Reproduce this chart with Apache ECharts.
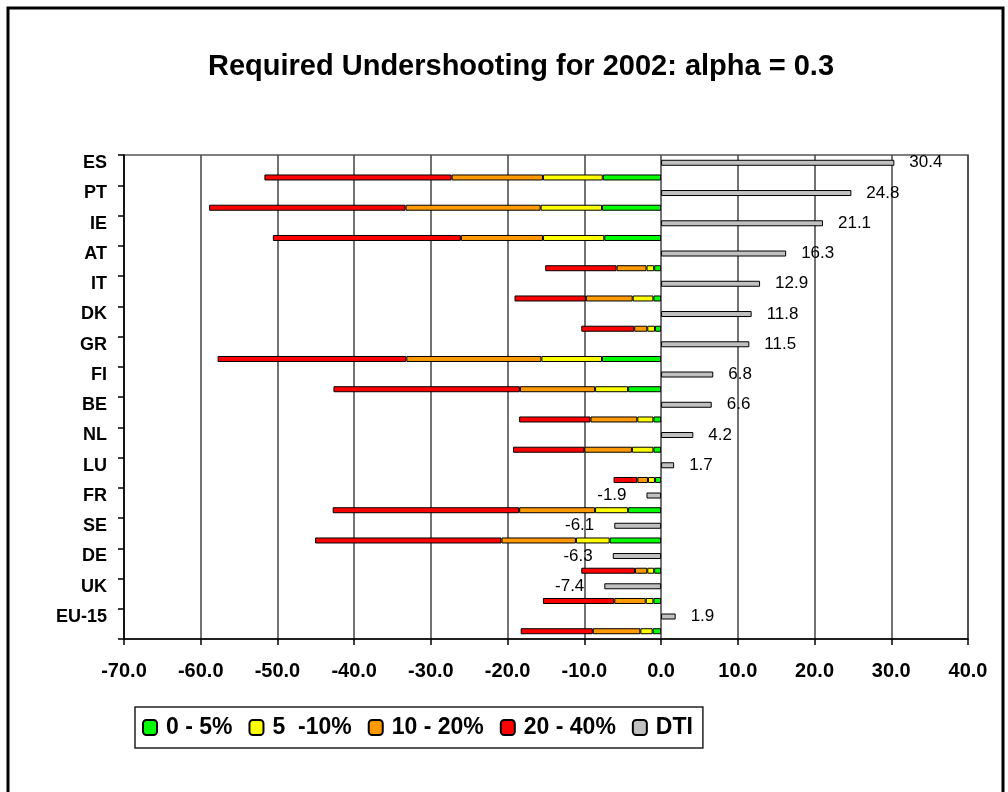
<!DOCTYPE html>
<html>
<head>
<meta charset="utf-8">
<script src="https://cdn.jsdelivr.net/npm/echarts@6/dist/echarts.min.js"></script>
<style>
  html, body { margin: 0; padding: 0; background: #fff; }
  #chart { width: 1008px; height: 792px; }
</style>
</head>
<body>
<div id="chart"></div>
<script>
// Countries, top to bottom
const categories = ['ES', 'PT', 'IE', 'AT', 'IT', 'DK', 'GR', 'FI', 'BE', 'NL', 'LU', 'FR', 'SE', 'DE', 'UK', 'EU-15'];

// DTI value per country
const dti = [30.4, 24.8, 21.1, 16.3, 12.9, 11.8, 11.5, 6.8, 6.6, 4.2, 1.7, -1.9, -6.1, -6.3, -7.4, 1.9];

// Required undershooting, stacked by band (each entry is the size of that band's segment)
const band0to5   = [-7.6, -7.7, -7.4, -0.9, -1.0, -0.8, -7.7, -4.3, -1.0, -1.0, -0.8, -4.3, -6.7, -0.9, -1.0, -1.1];
const band5to10  = [-7.8, -8.0, -8.0, -1.0, -2.7, -1.0, -7.9, -4.3, -2.1, -2.8, -0.9, -4.3, -4.4, -0.9, -1.0, -1.6];
const band10to20 = [-11.9, -17.6, -10.7, -3.9, -6.1, -1.7, -17.6, -9.8, -6.1, -6.2, -1.4, -9.9, -9.7, -1.6, -4.1, -6.2];
const band20to40 = [-24.4, -25.6, -24.5, -9.3, -9.3, -6.9, -24.6, -24.3, -9.3, -9.3, -3.1, -24.3, -24.3, -7.0, -9.3, -9.4];

const seriesNames = ['0 - 5%', '5  -10%', '10 - 20%', '20 - 40%', 'DTI'];
const titleText = 'Required Undershooting for 2002: alpha = 0.3';

const chart = echarts.init(document.getElementById('chart'), null, { renderer: 'canvas' });

const BAR_W = 6;
const BAR_GAP = '145%';
const FONT = '"Liberation Sans", Arial, sans-serif';
const bandStyle = (color) => ({ color: color, borderColor: '#000', borderWidth: 1 });

const stackSeries = [
  [seriesNames[0], band0to5, '#00ff00'],
  [seriesNames[1], band5to10, '#ffff00'],
  [seriesNames[2], band10to20, '#ff9900'],
  [seriesNames[3], band20to40, '#ff0000']
].map(([name, values, color]) => ({
  name: name,
  type: 'bar',
  stack: 'under',
  barWidth: BAR_W,
  barGap: BAR_GAP,
  itemStyle: bandStyle(color),
  data: values,
  z: 3
}));

const dtiSeries = {
  name: seriesNames[4],
  type: 'bar',
  stack: 'dti',
  barWidth: BAR_W,
  barGap: BAR_GAP,
  itemStyle: bandStyle('#c0c0c0'),
  label: {
    show: true,
    color: '#000',
    fontFamily: FONT,
    fontSize: 17,
    formatter: (p) => p.value.toFixed(1)
  },
  data: dti.map(v => ({ value: v, label: { position: v < 0 ? 'left' : 'right', distance: v < 0 ? 20 : 15 } })),
  z: 3
};

chart.setOption({
  animation: false,
  backgroundColor: '#fff',
  graphic: [
    {
      type: 'rect',
      shape: { x: 8, y: 8, width: 995, height: 800 },
      style: { fill: 'none', stroke: '#000', lineWidth: 3 },
      z: 0
    },
    {
      type: 'text',
      x: 521,
      y: 67,
      style: {
        text: titleText,
        textAlign: 'center',
        textVerticalAlign: 'middle',
        fill: '#000',
        font: 'bold 29px "Liberation Sans", Arial, sans-serif'
      }
    }
  ],
  grid: {
    left: 124, right: 40, top: 155, bottom: 153,
    show: true,
    borderColor: '#555',
    borderWidth: 1.5,
    containLabel: false
  },
  legend: {
    data: seriesNames,
    left: 135,
    top: 707,
    orient: 'horizontal',
    itemWidth: 14,
    itemHeight: 15,
    itemGap: 16,
    padding: [9, 10, 9, 7],
    borderColor: '#222',
    borderWidth: 1.5,
    backgroundColor: '#fff',
    textStyle: {
      fontFamily: FONT,
      fontWeight: 'bold',
      fontSize: 23,
      color: '#000',
      padding: [0, 0, 0, 4]
    }
  },
  xAxis: {
    type: 'value',
    min: -70,
    max: 40,
    interval: 10,
    axisLine: { show: true, lineStyle: { color: '#000', width: 1.5 } },
    axisTick: { show: true, inside: false, length: 6, lineStyle: { color: '#000', width: 1.5 } },
    splitLine: { show: true, lineStyle: { color: '#444', width: 1.5 } },
    axisLabel: {
      margin: 22,
      color: '#000',
      fontFamily: FONT,
      fontWeight: 'bold',
      fontSize: 20,
      formatter: (v) => v.toFixed(1)
    }
  },
  yAxis: {
    type: 'category',
    data: categories,
    inverse: true,
    axisLine: { show: true, onZero: false, lineStyle: { color: '#000', width: 1.5 } },
    axisTick: { show: true, inside: false, length: 6, lineStyle: { color: '#000', width: 1.5 } },
    splitLine: { show: false },
    axisLabel: {
      margin: 17,
      color: '#000',
      fontFamily: FONT,
      fontWeight: 'bold',
      fontSize: 18,
      verticalAlign: 'bottom',
      lineHeight: 14
    }
  },
  series: [dtiSeries].concat(stackSeries)
});
</script>
</body>
</html>
